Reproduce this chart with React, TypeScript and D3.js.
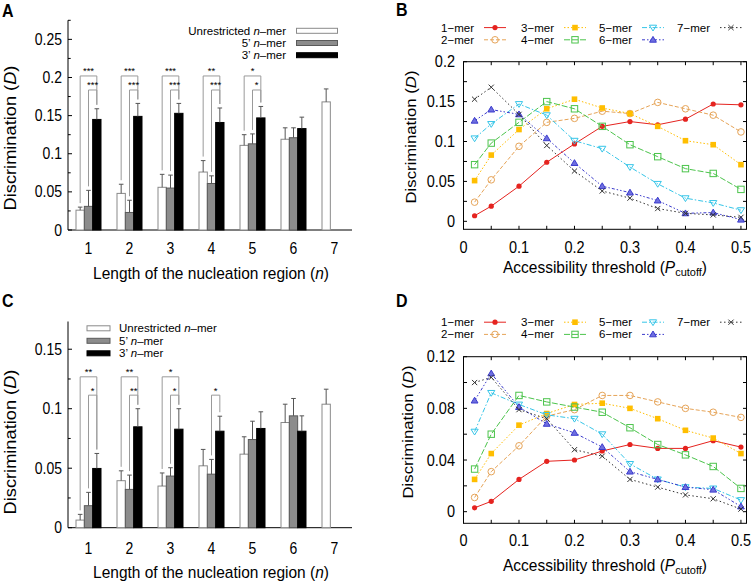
import React from 'react';
import * as d3 from 'd3';

// ---------- DATA ----------
const nCats = [1, 2, 3, 4, 5, 6, 7];

// Panel A
const aUnres = [0.026, 0.048, 0.056, 0.076, 0.111, 0.119, 0.168];
const aUnresErr = [0.030, 0.060, 0.073, 0.091, 0.125, 0.134, 0.185];
const a5p = [0.031, 0.023, 0.055, 0.061, 0.113, 0.121, null];
const a5pErr = [0.052, 0.039, 0.072, 0.071, 0.126, 0.134, null];
const a3p = [0.145, 0.149, 0.153, 0.141, 0.147, 0.133, null];
const a3pErr = [0.159, 0.166, 0.166, 0.160, 0.162, 0.148, null];
const aTicks = [0, 0.05, 0.1, 0.15, 0.2, 0.25];
const aTickLabels = ['0', '0.05', '0.1', '0.15', '0.2', '0.25'];
const aSig = [
  { g: 0, outer: '***', inner: '***' },
  { g: 1, outer: '***', inner: '***' },
  { g: 2, outer: '***', inner: '***' },
  { g: 3, outer: '**', inner: '***' },
  { g: 4, outer: '*', inner: '*' },
];

// Panel C
const cUnres = [0.0064, 0.0395, 0.035, 0.052, 0.0618, 0.0884, 0.1038];
const cUnresErr = [0.0112, 0.0478, 0.046, 0.0658, 0.0764, 0.1038, 0.1164];
const c5p = [0.0185, 0.0322, 0.0434, 0.045, 0.0741, 0.094, null];
const c5pErr = [0.0297, 0.0442, 0.0504, 0.0574, 0.0895, 0.1086, null];
const c3p = [0.0498, 0.0848, 0.0828, 0.0811, 0.0834, 0.0811, null];
const c3pErr = [0.0624, 0.100, 0.100, 0.0937, 0.0974, 0.094, null];
const cTicks = [0, 0.05, 0.1, 0.15];
const cTickLabels = ['0', '0.05', '0.1', '0.15'];
const cSig = [
  { g: 0, outer: '**', inner: '*' },
  { g: 1, outer: '**', inner: '**' },
  { g: 2, outer: '*', inner: '*' },
  { g: 3, outer: null, inner: '*' },
];

const barLegend = ['Unrestricted', '5’', '3’'];

// Panels B & D
const pCutoff = [0.02, 0.05, 0.1, 0.15, 0.2, 0.25, 0.3, 0.35, 0.4, 0.45, 0.5];
const merNames = ['1−mer', '2−mer', '3−mer', '4−mer', '5−mer', '6−mer', '7−mer'];

const bMer1 = [0.007, 0.019, 0.044, 0.074, 0.097, 0.119, 0.125, 0.121, 0.128, 0.147, 0.146];
const bMer2 = [0.024, 0.052, 0.094, 0.124, 0.129, 0.138, 0.135, 0.149, 0.141, 0.133, 0.112];
const bMer3 = [0.051, 0.083, 0.115, 0.141, 0.153, 0.142, 0.135, 0.119, 0.101, 0.096, 0.071];
const bMer4 = [0.071, 0.098, 0.124, 0.150, 0.141, 0.119, 0.096, 0.081, 0.066, 0.060, 0.040];
const bMer5 = [0.104, 0.122, 0.147, 0.133, 0.101, 0.091, 0.068, 0.047, 0.029, 0.023, 0.014];
const bMer6 = [0.126, 0.140, 0.134, 0.104, 0.073, 0.044, 0.036, 0.026, 0.010, 0.011, 0.002];
const bMer7 = [0.153, 0.168, 0.134, 0.095, 0.063, 0.038, 0.029, 0.016, 0.010, 0.008, 0.005];

const dMer1 = [0.003, 0.008, 0.025, 0.039, 0.040, 0.047, 0.052, 0.049, 0.049, 0.055, 0.050];
const dMer2 = [0.011, 0.031, 0.051, 0.074, 0.079, 0.090, 0.090, 0.085, 0.080, 0.077, 0.073];
const dMer3 = [0.025, 0.045, 0.067, 0.076, 0.083, 0.084, 0.080, 0.072, 0.063, 0.057, 0.045];
const dMer4 = [0.033, 0.060, 0.090, 0.085, 0.081, 0.077, 0.065, 0.052, 0.044, 0.035, 0.018];
const dMer5 = [0.062, 0.092, 0.083, 0.075, 0.072, 0.060, 0.037, 0.025, 0.019, 0.018, 0.009];
const dMer6 = [0.086, 0.107, 0.081, 0.068, 0.061, 0.050, 0.031, 0.025, 0.019, 0.017, 0.004];
const dMer7 = [0.100, 0.104, 0.079, 0.072, 0.048, 0.043, 0.025, 0.019, 0.013, 0.010, 0.002];

const bYTicks = [0, 0.05, 0.1, 0.15, 0.2];
const bYLabels = ['0', '0.05', '0.1', '0.15', '0.2'];
const dYTicks = [0, 0.04, 0.08, 0.12];
const dYLabels = ['0', '0.04', '0.08', '0.12'];
const pXTicks = [0, 0.1, 0.2, 0.3, 0.4, 0.5];
const pXLabels = ['0', '0.1', '0.2', '0.3', '0.4', '0.5'];

// ---------- STYLES ----------
const FONT = 'Liberation Sans, Arial, Helvetica, sans-serif';
const merColors = ['#e5231f', '#e6a458', '#ffbe00', '#4cc44c', '#35c5e8', '#3b3bcc', '#333333'];
const merDash = ['none', '4,2', '1.5,2', '6,2', '5,2,1.5,2', '3,2,1.5,2,1.5,2', '1.5,2.5'];
const merMarker = ['dot', 'ocircle', 'fsquare', 'osquare', 'otri', 'ftri', 'cross'];

type TP = { x: number; y: number; size: number; anchor?: string; weight?: string; sy?: number; rot?: boolean; children?: any };
const T = ({ x, y, size, anchor = 'start', weight = 'normal', sy = 1, rot = false, children }: TP) => {
  const tr = rot ? `translate(${x},${y}) rotate(-90) scale(${sy},1)` : `translate(${x},${y}) scale(1,${sy})`;
  return (
    <text transform={tr} fontSize={size} textAnchor={anchor as any} fontWeight={weight} fill="#000" fontFamily={FONT}>
      {children}
    </text>
  );
};

const Marker = ({ type, x, y, c }: { type: string; x: number; y: number; c: string }) => {
  switch (type) {
    case 'dot':
      return <circle cx={x} cy={y} r={2.6} fill={c} />;
    case 'ocircle':
      return <circle cx={x} cy={y} r={3.3} fill="none" stroke={c} strokeWidth={1} />;
    case 'fsquare':
      return <rect x={x - 2.8} y={y - 2.8} width={5.6} height={5.6} fill={c} />;
    case 'osquare':
      return <rect x={x - 3.2} y={y - 3.2} width={6.4} height={6.4} fill="none" stroke={c} strokeWidth={1} />;
    case 'otri':
      return <path d={`M${x - 3.6},${y - 2.4}L${x + 3.6},${y - 2.4}L${x},${y + 3.4}Z`} fill="none" stroke={c} strokeWidth={1} />;
    case 'ftri':
      return <path d={`M${x - 3.4},${y + 2.4}L${x + 3.4},${y + 2.4}L${x},${y - 3.4}Z`} fill="#6f6fe0" stroke={c} strokeWidth={1} />;
    case 'cross':
      return <path d={`M${x - 2.6},${y - 2.6}L${x + 2.6},${y + 2.6}M${x - 2.6},${y + 2.6}L${x + 2.6},${y - 2.6}`} stroke={c} strokeWidth={1} />;
  }
  return null;
};

// ---------- BAR PANEL ----------
type BarCfg = {
  letterY: number; yBottom: number; yTopPx: number; yMax: number;
  ticks: number[]; tickLabels: string[];
  unres: (number | null)[]; unresErr: (number | null)[];
  p5: (number | null)[]; p5Err: (number | null)[];
  p3: (number | null)[]; p3Err: (number | null)[];
  sig: { g: number; outer: string | null; inner: string | null }[];
  outerLvl: number; innerLvl: number;
  letter: string; xTickY: number; xTitleY: number; yTitleY: number;
  legend: { boxX: number; boxW: number; textX: number; anchor: string; rows: number[] };
};

const SY = 1.12;

function BarPanel(cfg: BarCfg) {
  const x = d3.scaleBand<number>().domain(nCats).range([68, 355]);
  const inner = d3.scaleBand<number>().domain([0, 1, 2]).range([-12.5, 12.5]);
  const y = d3.scaleLinear().domain([0, cfg.yMax]).range([cfg.yBottom, cfg.yTopPx]);
  const bw = inner.bandwidth();
  const series = [
    { v: cfg.unres, e: cfg.unresErr, fill: '#ffffff', stroke: '#8a8a8a' },
    { v: cfg.p5, e: cfg.p5Err, fill: '#8c8c8c', stroke: '#5a5a5a' },
    { v: cfg.p3, e: cfg.p3Err, fill: '#000000', stroke: '#000000' },
  ];
  const cx = (g: number, k: number) => (x(nCats[g]) as number) + x.bandwidth() / 2 + (inner(k) as number) + bw / 2;
  const minor = cfg.ticks.slice(0, -1).map((t, i) => (t + cfg.ticks[i + 1]) / 2);
  const lastMinor = cfg.ticks[cfg.ticks.length - 1] + (cfg.ticks[1] - cfg.ticks[0]) / 2;
  if (lastMinor <= cfg.yMax) minor.push(lastMinor);
  const gap = 4;
  return (
    <g>
      {/* axes */}
      <line x1={68} x2={68} y1={cfg.yBottom} y2={cfg.yTopPx} stroke="#000" strokeWidth={1} />
      <line x1={68} x2={352} y1={cfg.yBottom} y2={cfg.yBottom} stroke="#000" strokeWidth={1} />
      {cfg.ticks.map((t, i) => (
        <g key={'t' + i}>
          <line x1={68} x2={72} y1={y(t)} y2={y(t)} stroke="#000" />
          <T x={62} y={y(t) + 5.5} size={14} anchor="end" sy={SY}>{cfg.tickLabels[i]}</T>
        </g>
      ))}
      {minor.map((t, i) => (
        <line key={'m' + i} x1={68} x2={70.7} y1={y(t)} y2={y(t)} stroke="#000" />
      ))}
      {/* bars */}
      {series.map((s, k) =>
        s.v.map((v, g) =>
          v == null ? null : (
            <g key={`b${k}-${g}`}>
              <rect x={cx(g, k) - bw / 2} y={y(v)} width={bw} height={cfg.yBottom - y(v)} fill={s.fill} stroke={s.stroke} strokeWidth={1} />
            </g>
          )
        )
      )}
      {series.map((s, k) =>
        s.v.map((v, g) =>
          v == null || s.e[g] == null ? null : (
            <g key={`e${k}-${g}`} stroke="#555" strokeWidth={1}>
              <line x1={cx(g, k)} x2={cx(g, k)} y1={y(v)} y2={y(s.e[g] as number)} />
              <line x1={cx(g, k) - 2.3} x2={cx(g, k) + 2.3} y1={y(s.e[g] as number)} y2={y(s.e[g] as number)} />
            </g>
          )
        )
      )}
      {/* significance brackets */}
      {cfg.sig.map((s) => {
        const xo = cx(s.g, 0), xi = cx(s.g, 1), xb = cx(s.g, 2);
        const yo = y(cfg.outerLvl), yi = y(cfg.innerLvl);
        const eU = y(cfg.unresErr[s.g] as number) - gap;
        const e5 = y(cfg.p5Err[s.g] as number) - gap;
        const e3 = y(cfg.p3Err[s.g] as number) - gap;
        return (
          <g key={'s' + s.g}>
            {s.outer && (
              <g>
                <path d={`M${xo},${eU}V${yo}H${xb}V${e3}`} fill="none" stroke="#9a9a9a" strokeWidth={1} />
                <T x={(xo + xb) / 2} y={yo - 1.5} size={9.5} anchor="middle">{s.outer}</T>
              </g>
            )}
            {s.inner && (
              <g>
                <path d={`M${xi},${e5}V${yi}H${xb}V${e3}`} fill="none" stroke="#9a9a9a" strokeWidth={1} />
                <T x={(xi + xb) / 2} y={yi - 1.5} size={9.5} anchor="middle">{s.inner}</T>
              </g>
            )}
          </g>
        );
      })}
      {/* x tick labels */}
      {nCats.map((n) => (
        <T key={'x' + n} x={(x(n) as number) + x.bandwidth() / 2} y={cfg.xTickY} size={14} anchor="middle" sy={SY}>{String(n)}</T>
      ))}
      <T x={211} y={cfg.xTitleY} size={15.5} anchor="middle" sy={SY}>
        Length of the nucleation region (<tspan fontStyle="italic">n</tspan>)
      </T>
      <T x={16} y={cfg.yTitleY} size={16} anchor="middle" rot sy={1.14}>
        Discrimination (<tspan fontStyle="italic">D</tspan>)
      </T>
      <T x={2} y={cfg.letterY} size={16} weight="bold" sy={SY}>{cfg.letter}</T>
      {/* legend */}
      {series.map((s, k) => (
        <g key={'l' + k}>
          <rect x={cfg.legend.boxX} y={cfg.legend.rows[k] - 2.5} width={cfg.legend.boxW} height={5} fill={s.fill} stroke={s.stroke} strokeWidth={1} />
          <T x={cfg.legend.textX} y={cfg.legend.rows[k] + 4} size={11.5} anchor={cfg.legend.anchor}>
            {`${barLegend[k]} `}<tspan fontStyle="italic">n</tspan>{'–mer'}
          </T>
        </g>
      ))}
    </g>
  );
}

// ---------- LINE PANEL ----------
type LineCfg = {
  top: number; bottom: number; yDomain: [number, number];
  series: number[][]; yTicks: number[]; yLabels: string[]; yMinor: number[];
  letter: string; letterY: number; legRows: number[]; xTickY: number; xTitleY: number; yTitleX: number; yTitleY: number;
};

function LinePanel(cfg: LineCfg) {
  const L = 463.5, R = 746.5;
  const x = d3.scaleLinear().domain([0, 0.51]).range([L, R]);
  const y = d3.scaleLinear().domain(cfg.yDomain).range([cfg.bottom, cfg.top]);
  const line = d3.line<number>().x((_, i) => x(pCutoff[i])).y((d) => y(d));
  const xt = d3.range(0, 11).map((i) => i * 0.05);
  const colX = [474, 554, 632, 710];
  return (
    <g>
      <rect x={L} y={cfg.top} width={R - L} height={cfg.bottom - cfg.top} fill="none" stroke="#000" strokeWidth={1} />
      {xt.map((t, i) => (
        <g key={'xt' + i} stroke="#000">
          <line x1={x(t)} x2={x(t)} y1={cfg.bottom} y2={cfg.bottom - 3.5} />
          <line x1={x(t)} x2={x(t)} y1={cfg.top} y2={cfg.top + 3.5} />
        </g>
      ))}
      {cfg.yTicks.concat(cfg.yMinor).map((t, i) => (
        <g key={'yt' + i} stroke="#000">
          <line x1={L} x2={L + 3.5} y1={y(t)} y2={y(t)} />
          <line x1={R} x2={R - 3.5} y1={y(t)} y2={y(t)} />
        </g>
      ))}
      {cfg.yTicks.map((t, i) => (
        <T key={'yl' + i} x={455} y={y(t) + 5.5} size={14.5} anchor="end" sy={1.08}>{cfg.yLabels[i]}</T>
      ))}
      {pXTicks.map((t, i) => (
        <T key={'xl' + i} x={x(t)} y={cfg.xTickY} size={14.5} anchor="middle" sy={1.08}>{pXLabels[i]}</T>
      ))}
      <T x={605} y={cfg.xTitleY} size={15.5} anchor="middle" sy={1.05}>
        Accessibility threshold (<tspan fontStyle="italic">P</tspan>
        <tspan fontSize={11} dy={3}>cutoff</tspan>
        <tspan dy={-3}>)</tspan>
      </T>
      <T x={cfg.yTitleX} y={cfg.yTitleY} size={15.5} anchor="middle" rot sy={1.08}>
        Discrimination (<tspan fontStyle="italic">D</tspan>)
      </T>
      <T x={396} y={cfg.letterY} size={16} weight="bold" sy={1.1}>{cfg.letter}</T>
      {cfg.series.map((s, k) => (
        <g key={'s' + k}>
          <path d={line(s) as string} fill="none" stroke={merColors[k]} strokeWidth={1} strokeDasharray={merDash[k]} />
          {s.map((v, i) => (
            <Marker key={i} type={merMarker[k]} x={x(pCutoff[i])} y={y(v)} c={merColors[k]} />
          ))}
        </g>
      ))}
      {merNames.map((nm, k) => {
        const col = Math.floor(k / 2), row = k % 2;
        const ly = cfg.legRows[row];
        const sx = colX[col] + 10;
        return (
          <g key={'lg' + k}>
            <T x={colX[col]} y={ly + 4} size={11.5} anchor="end">{nm}</T>
            <line x1={sx} x2={sx + 22} y1={ly} y2={ly} stroke={merColors[k]} strokeWidth={1} strokeDasharray={merDash[k]} />
            <Marker type={merMarker[k]} x={sx + 11} y={ly} c={merColors[k]} />
          </g>
        );
      })}
    </g>
  );
}

export default function App() {
  return (
    <svg width={754} height={581} viewBox="0 0 754 581" style={{ position: 'absolute', left: 0, top: 0, background: '#fff' }}>
      <rect x={0} y={0} width={754} height={581} fill="#fff" />
      <BarPanel
        letter="A" letterY={17} yBottom={230} yTopPx={20.3} yMax={0.275}
        ticks={aTicks} tickLabels={aTickLabels}
        unres={aUnres} unresErr={aUnresErr} p5={a5p} p5Err={a5pErr} p3={a3p} p3Err={a3pErr}
        sig={aSig} outerLvl={0.202} innerLvl={0.1836}
        xTickY={253.5} xTitleY={279} yTitleY={138}
        legend={{ boxX: 296.5, boxW: 41, textX: 286, anchor: 'end', rows: [30.8, 43, 55.2] }}
      />
      <BarPanel
        letter="C" letterY={307} yBottom={527.7} yTopPx={321.5} yMax={0.1733}
        ticks={cTicks} tickLabels={cTickLabels}
        unres={cUnres} unresErr={cUnresErr} p5={c5p} p5Err={c5pErr} p3={c3p} p3Err={c3pErr}
        sig={cSig} outerLvl={0.1268} innerLvl={0.1114}
        xTickY={553.5} xTitleY={577.5} yTitleY={442}
        legend={{ boxX: 87, boxW: 23, textX: 119, anchor: 'start', rows: [328.3, 340.8, 353.3] }}
      />
      <LinePanel
        letter="B" letterY={15.5} top={61.7} bottom={229.3} yDomain={[-0.01, 0.2]}
        series={[bMer1, bMer2, bMer3, bMer4, bMer5, bMer6, bMer7]}
        yTicks={bYTicks} yLabels={bYLabels} yMinor={[0.025, 0.075, 0.125, 0.175]}
        legRows={[27.6, 39.8]} xTickY={252.5} xTitleY={272.5} yTitleX={416} yTitleY={137}
      />
      <LinePanel
        letter="D" letterY={306.5} top={356.7} bottom={523.3} yDomain={[-0.009, 0.12]}
        series={[dMer1, dMer2, dMer3, dMer4, dMer5, dMer6, dMer7]}
        yTicks={dYTicks} yLabels={dYLabels} yMinor={[0.02, 0.06, 0.1]}
        legRows={[322.2, 334.4]} xTickY={545.5} xTitleY={570.5} yTitleX={413} yTitleY={432}
      />
    </svg>
  );
}
